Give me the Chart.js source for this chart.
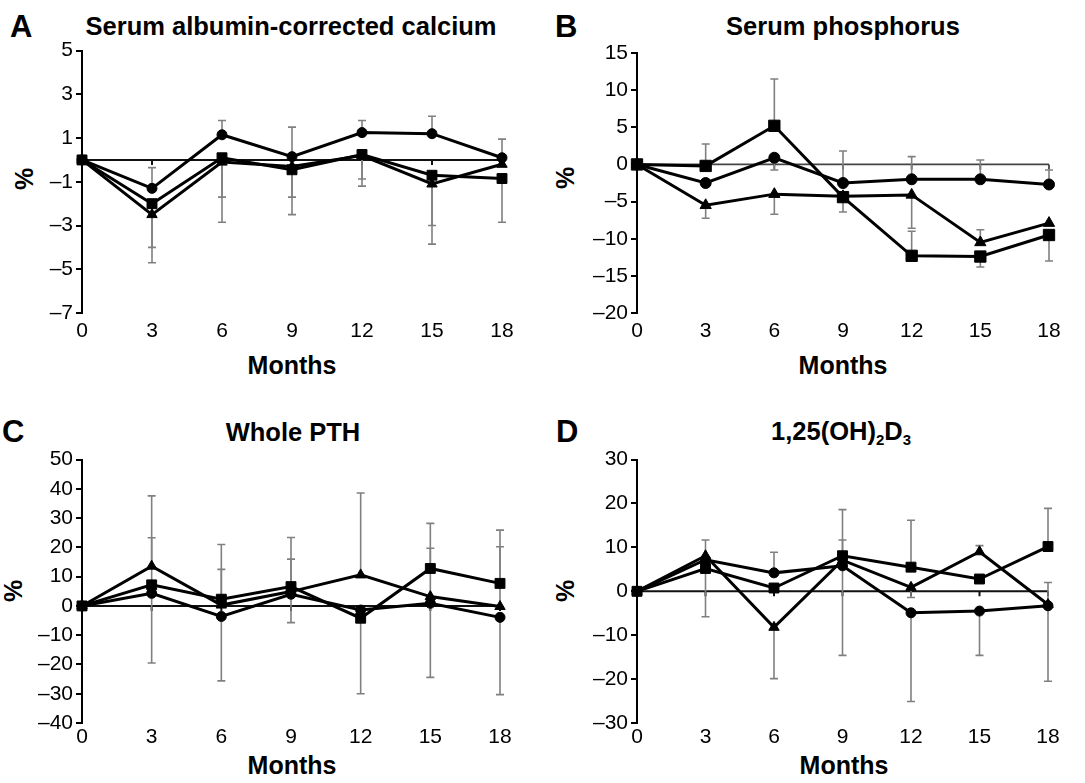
<!DOCTYPE html>
<html>
<head>
<meta charset="utf-8">
<script src="https://cdn.jsdelivr.net/npm/chart.js@4.4.0/dist/chart.umd.min.js"></script>
<style>
  body { margin: 0; background: #fff; }
  #page { position: relative; width: 1085px; height: 783px; overflow: hidden; font-family: "Liberation Sans", Arial, sans-serif; color: #000; }
  canvas { position: absolute; }
  .txt { position: absolute; font-weight: bold; line-height: 1; white-space: nowrap; }
  .letter { font-size: 31px; }
  .title { font-size: 25.5px; transform: translateX(-50%); }
  .months { font-size: 25px; transform: translateX(-50%); }
  .pct { font-size: 25px; transform: translate(-50%, -50%) rotate(-90deg); }
  sub { font-size: 15px; vertical-align: -5px; line-height: 0; }
</style>
</head>
<body>
<div id="page">
  <div class="txt letter" style="left:10px; top:11px;">A</div>
  <div class="txt title" style="left:291px; top:14px;">Serum albumin-corrected calcium</div>
  <div class="txt letter" style="left:555px; top:11px;">B</div>
  <div class="txt title" style="left:843px; top:14px;">Serum phosphorus</div>
  <div class="txt letter" style="left:2px; top:416px;">C</div>
  <div class="txt title" style="left:293px; top:420px;">Whole PTH</div>
  <div class="txt letter" style="left:556px; top:416px;">D</div>
  <div class="txt title" style="left:841px; top:419px;">1,25(OH)<sub>2</sub>D<sub>3</sub></div>

  <div class="txt pct" style="left:24px; top:179px;">%</div>
  <div class="txt pct" style="left:565px; top:178px;">%</div>
  <div class="txt pct" style="left:13px; top:591px;">%</div>
  <div class="txt pct" style="left:565px; top:591px;">%</div>

  <div class="txt months" style="left:292px; top:353px;">Months</div>
  <div class="txt months" style="left:843px; top:353px;">Months</div>
  <div class="txt months" style="left:292px; top:753px;">Months</div>
  <div class="txt months" style="left:844px; top:753px;">Months</div>

  <canvas id="chartA" width="540" height="325" style="left:0px; top:35px; width:540px; height:325px;"></canvas>
  <canvas id="chartB" width="545" height="325" style="left:540px; top:35px; width:545px; height:325px;"></canvas>
  <canvas id="chartC" width="540" height="310" style="left:0px; top:444px; width:540px; height:310px;"></canvas>
  <canvas id="chartD" width="545" height="310" style="left:540px; top:444px; width:545px; height:310px;"></canvas>
</div>
<script>
// months of follow-up
const months = [0, 3, 6, 9, 12, 15, 18];

// A - serum albumin-corrected calcium, % change
const caYTicks = [-7, -5, -3, -1, 1, 3, 5];
const caCircle = [0, -1.3, 1.15, 0.15, 1.25, 1.2, 0.1];
const caSquare = [0, -2.0, 0.1, -0.45, 0.25, -0.7, -0.85];
const caTriangle = [0, -2.5, -0.1, -0.3, 0.2, -1.1, -0.2];
// error bar end values (one-sided), null = none
const caCircleErr = [null, -0.35, 1.8, 1.5, 1.8, 2.0, 0.95];
const caSquareErr = [null, -4.0, -1.7, -1.7, -0.87, -3.0, -2.85];
const caTriangleErr = [null, -4.7, -2.85, -2.5, -1.2, -3.85, null];

// B - serum phosphorus
const phYTicks = [-20, -15, -10, -5, 0, 5, 10, 15];
const phCircle = [0, -2.5, 0.9, -2.5, -2.0, -2.0, -2.7];
const phSquare = [0, -0.2, 5.2, -4.4, -12.3, -12.4, -9.5];
const phTriangle = [0, -5.5, -4.0, -4.3, -4.1, -10.5, -7.9];
const phCircleErr = [null, null, -0.75, 1.8, 1.05, 0.6, -0.75];
const phSquareErr = [null, 2.75, 11.5, null, -9.0, -13.8, -13.0];
const phTriangleErr = [null, -7.25, -6.7, -6.4, -8.6, -8.8, null];

// C - whole PTH
const pthYTicks = [-40, -30, -20, -10, 0, 10, 20, 30, 40, 50];
const pthCircle = [0, 4.3, -3.6, 4.0, -1.4, 0.9, -3.9];
const pthSquare = [0, 7.2, 2.3, 6.6, -4.2, 12.8, 7.7];
const pthTriangle = [0, 13.6, 0.3, 4.9, 10.6, 3.2, -0.2];
const pthCircleErr = [null, -19.5, -25.6, -5.7, null, -24.4, -30.3];
const pthSquareErr = [null, 23.3, 21, 23.4, -30, 28.2, 25.9];
const pthTriangleErr = [null, 37.6, 12.5, 16, 38.6, 19.7, 20.2];

// D - 1,25(OH)2D3
const vdYTicks = [-30, -20, -10, 0, 10, 20, 30];
const vdCircle = [0, 7.2, 4.2, 5.8, -4.9, -4.5, -3.3];
const vdSquare = [0, 5.2, 0.75, 8.1, 5.5, 2.8, 10.2];
const vdTriangle = [0, 8.1, -8.2, 7.1, 0.9, 9.0, -3.0];
const vdCircleErr = [null, null, 8.9, -14.6, -25.1, -14.6, -20.5];
const vdSquareErr = [null, -5.8, null, 18.6, 16.2, null, 18.9];
const vdTriangleErr = [null, 11.7, -19.9, 11.7, -1.4, 10.4, 2.0];

const FONT = '"Liberation Sans", Arial, sans-serif';

// horizontal axis crossing at 0, with small tick marks
const zeroAxis = {
    id: 'zeroAxis',
    beforeDatasetsDraw(chart, args, opts) {
        const { ctx, chartArea, scales } = chart;
        const yz = scales.y.getPixelForValue(0);
        ctx.save();
        ctx.strokeStyle = opts.color;
        ctx.lineWidth = opts.width;
        ctx.beginPath();
        ctx.moveTo(chartArea.left, yz);
        ctx.lineTo(chartArea.right, yz);
        months.forEach(m => {
            const px = scales.x.getPixelForValue(m);
            ctx.moveTo(px, yz);
            ctx.lineTo(px, yz + 5);
        });
        ctx.stroke();
        ctx.restore();
    }
};

// one-sided error bars with caps
const errorBars = {
    id: 'errorBars',
    beforeDatasetsDraw(chart) {
        const { ctx, scales } = chart;
        ctx.save();
        ctx.strokeStyle = '#808080';
        ctx.lineWidth = 1.6;
        chart.data.datasets.forEach((ds, di) => {
            const meta = chart.getDatasetMeta(di);
            (ds.errEnds || []).forEach((end, i) => {
                if (end === null) return;
                const pt = meta.data[i];
                const p1 = scales.y.getPixelForValue(end);
                ctx.beginPath();
                ctx.moveTo(pt.x, pt.y);
                ctx.lineTo(pt.x, p1);
                ctx.moveTo(pt.x - 4, p1);
                ctx.lineTo(pt.x + 4, p1);
                ctx.stroke();
            });
        });
        ctx.restore();
    }
};

function series(values, errEnds, style, radius) {
    return {
        data: months.map((m, i) => ({ x: m, y: values[i] })),
        errEnds: errEnds,
        borderColor: '#000',
        borderWidth: 3,
        backgroundColor: '#000',
        pointStyle: style,
        pointRadius: radius,
        pointBackgroundColor: '#000',
        pointBorderColor: '#000',
        pointBorderWidth: 1,
        tension: 0,
        clip: false
    };
}

function makePanel(id, yTicks, sets, box) {
    const ctx = document.getElementById(id).getContext('2d');
    return new Chart(ctx, {
        type: 'line',
        data: { datasets: sets },
        plugins: [zeroAxis, errorBars],
        options: {
            responsive: false,
            animation: false,
            layout: { padding: { top: box.top, right: box.right, left: 0, bottom: 0 } },
            plugins: {
                legend: { display: false },
                tooltip: { enabled: false },
                zeroAxis: { color: box.zeroColor, width: box.zeroWidth }
            },
            scales: {
                x: {
                    type: 'linear',
                    min: 0,
                    max: 18,
                    afterFit: s => { s.height = box.xh; },
                    afterBuildTicks: s => { s.ticks = months.map(v => ({ value: v })); },
                    grid: { display: false, drawTicks: false },
                    border: { display: false },
                    ticks: { padding: box.xpad, color: '#000', font: { family: FONT, size: 21 } }
                },
                y: {
                    min: yTicks[0],
                    max: yTicks[yTicks.length - 1],
                    afterFit: s => { s.width = box.yw; },
                    afterBuildTicks: s => { s.ticks = yTicks.map(v => ({ value: v })); },
                    grid: { drawOnChartArea: false, tickLength: 6, color: '#000', lineWidth: 2 },
                    border: { display: true, color: '#000', width: 2 },
                    ticks: {
                        padding: 3,
                        color: '#000',
                        font: { family: FONT, size: 21 },
                        callback: v => (v < 0 ? '\u2013' + Math.abs(v) : String(v))
                    }
                }
            }
        }
    });
}

makePanel('chartA', caYTicks, [
    series(caCircle, caCircleErr, 'circle', 5),
    series(caSquare, caSquareErr, 'rect', 7),
    series(caTriangle, caTriangleErr, 'triangle', 6)
], { top: 14, right: 38, yw: 82, xh: 47, xpad: 6, zeroColor: '#111', zeroWidth: 2 });

makePanel('chartB', phYTicks, [
    series(phCircle, phCircleErr, 'circle', 5.5),
    series(phSquare, phSquareErr, 'rect', 8),
    series(phTriangle, phTriangleErr, 'triangle', 6.5)
], { top: 18, right: 36, yw: 97, xh: 47, xpad: 6, zeroColor: '#444', zeroWidth: 1.8 });

makePanel('chartC', pthYTicks, [
    series(pthCircle, pthCircleErr, 'circle', 5),
    series(pthSquare, pthSquareErr, 'rect', 7),
    series(pthTriangle, pthTriangleErr, 'triangle', 6)
], { top: 15, right: 40, yw: 82, xh: 31, xpad: 2, zeroColor: '#111', zeroWidth: 2 });

makePanel('chartD', vdYTicks, [
    series(vdCircle, vdCircleErr, 'circle', 5),
    series(vdSquare, vdSquareErr, 'rect', 7),
    series(vdTriangle, vdTriangleErr, 'triangle', 6)
], { top: 14, right: 37, yw: 97, xh: 31, xpad: 2, zeroColor: '#111', zeroWidth: 2 });
</script>
</body>
</html>
